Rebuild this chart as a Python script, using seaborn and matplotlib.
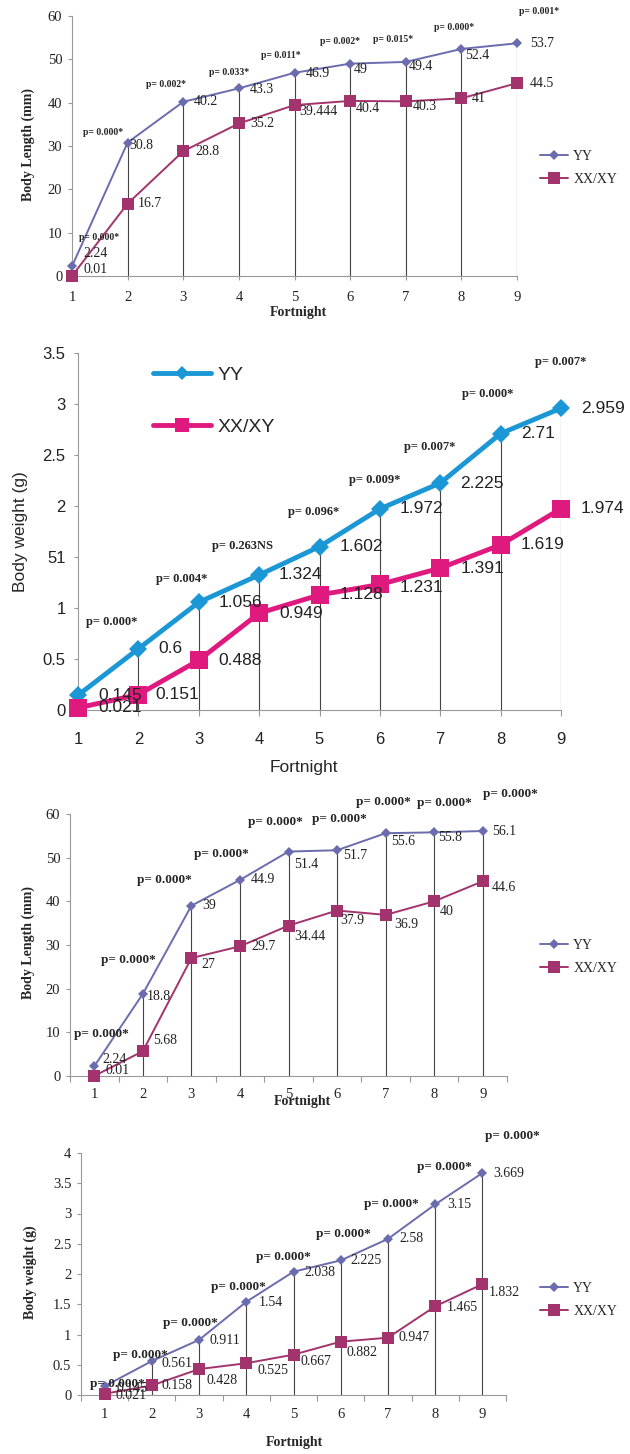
import matplotlib
matplotlib.use('Agg')
import matplotlib.pyplot as plt
import seaborn as sns
import numpy as np
from matplotlib.lines import Line2D

sns.set_style('white')
plt.rcParams['font.family'] = ['Liberation Serif', 'DejaVu Serif']

SERIF = ['Liberation Serif', 'DejaVu Serif']
SANS = ['Liberation Sans', 'DejaVu Sans']

fortnight = [1, 2, 3, 4, 5, 6, 7, 8, 9]
groups = ['YY', 'XX/XY']

# panel 1 : body length (first trial)
len1_yy = [2.24, 30.8, 40.2, 43.3, 46.9, 49, 49.4, 52.4, 53.7]
len1_xx = [0.01, 16.7, 28.8, 35.2, 39.444, 40.4, 40.3, 41, 44.5]
len1_p = ['p= 0.000*', 'p= 0.000*', 'p= 0.002*', 'p= 0.033*', 'p= 0.011*',
          'p= 0.002*', 'p= 0.015*', 'p= 0.000*', 'p= 0.001*']

# panel 2 : body weight (first trial)
wt1_yy = [0.145, 0.6, 1.056, 1.324, 1.602, 1.972, 2.225, 2.71, 2.959]
wt1_xx = [0.021, 0.151, 0.488, 0.949, 1.128, 1.231, 1.391, 1.619, 1.974]
wt1_p = ['p= 0.000*', 'p= 0.004*', 'p= 0.263NS', 'p= 0.096*', 'p= 0.009*',
         'p= 0.007*', 'p= 0.000*', 'p= 0.007*']
wt1_yticklabels = ['0', '0.5', '1', '51', '2', '2.5', '3', '3.5']

# panel 3 : body length (second trial)
len2_yy = [2.24, 18.8, 39, 44.9, 51.4, 51.7, 55.6, 55.8, 56.1]
len2_xx = [0.01, 5.68, 27, 29.7, 34.44, 37.9, 36.9, 40, 44.6]
len2_p = ['p= 0.000*'] * 9

# panel 4 : body weight (second trial)
wt2_yy = [0.145, 0.561, 0.911, 1.54, 2.038, 2.225, 2.58, 3.15, 3.669]
wt2_xx = [0.021, 0.158, 0.428, 0.525, 0.667, 0.882, 0.947, 1.465, 1.832]
wt2_p = ['p= 0.000*'] * 9


def draw(ax, yy, xx, pvals, p_xy, cfg):
    c_yy, c_xx = cfg['colors']
    # drop lines
    ax.vlines(fortnight, 0, np.maximum(yy, xx), colors='#444444', lw=0.8, zorder=1)
    sns.lineplot(x=fortnight, y=yy, color=c_yy, marker='D', markersize=cfg['ms_d'],
                 markeredgewidth=0, lw=cfg['lw'], ax=ax, clip_on=False, zorder=3)
    sns.lineplot(x=fortnight, y=xx, color=c_xx, marker='s', markersize=cfg['ms_s'],
                 markeredgewidth=0, lw=cfg['lw'], ax=ax, clip_on=False, zorder=3)
    fam = cfg['family']
    # value labels
    for vals, offs in [(yy, cfg['off_yy']), (xx, cfg['off_xx'])]:
        for x, v, o in zip(fortnight, vals, offs):
            ax.annotate('%g' % v, (x, v), xytext=o, textcoords='offset pixels',
                        ha='left', va='center', fontsize=cfg['fs_val'], family=fam,
                        color='#222222', zorder=4, annotation_clip=False)
    # p values
    for s, (px, py) in zip(pvals, p_xy):
        ax.text(px, py, s, ha='center', va='center', fontsize=cfg['fs_p'],
                fontweight='bold', family=SERIF, clip_on=False, zorder=5)
    ax.set_xlim(cfg['xlim'])
    ax.set_ylim(cfg['ylim'])
    ax.set_xticks(fortnight)
    ax.set_yticks(cfg['yticks'])
    if 'yticklabels' in cfg:
        ax.set_yticklabels(cfg['yticklabels'])
    else:
        ax.set_yticklabels(['%g' % t for t in cfg['yticks']])
    for sp in ['top', 'right']:
        ax.spines[sp].set_visible(False)
    for sp in ['left', 'bottom']:
        ax.spines[sp].set_color('#999999')
        ax.spines[sp].set_linewidth(0.8)
    ax.tick_params(axis='y', length=3, width=0.8, color='#999999', pad=cfg['ypad'],
                   labelsize=cfg['fs_tick'], labelcolor='#222222', left=True)
    ax.tick_params(axis='x', length=cfg['xtick_len'], width=0.8, color='#999999',
                   pad=cfg['xpad'], labelsize=cfg['fs_tick'], labelcolor='#222222', bottom=True)
    for lab in ax.get_xticklabels() + ax.get_yticklabels():
        lab.set_family(fam)
    if cfg.get('minor'):
        ax.set_xticks(np.arange(0.5, 10, 1), minor=True)
        ax.tick_params(axis='x', which='minor', length=4, width=0.8, color='#999999', bottom=True)
    lw_xl = 'bold' if fam == SERIF else 'normal'
    ax.set_xlabel('Fortnight', fontsize=cfg['fs_lab'], fontweight=lw_xl, family=fam)
    ax.set_ylabel(cfg['ylabel'], fontsize=cfg['fs_lab'], fontweight=lw_xl, family=fam)
    ax.xaxis.set_label_coords(*cfg['xlab_xy'])
    ax.yaxis.set_label_coords(*cfg['ylab_xy'])
    ax.xaxis.label.set_va('center')
    ax.yaxis.label.set_va('center')
    # legend
    fs_leg = cfg['fs_leg']
    handles = [Line2D([], [], color=c_yy, marker='D', markersize=cfg['ms_d'] * cfg['leg_scale'],
                      mew=0, lw=cfg['lw']),
               Line2D([], [], color=c_xx, marker='s', markersize=cfg['ms_s'] * cfg['leg_scale'],
                      mew=0, lw=cfg['lw'])]
    ax.legend(handles, groups, loc='center left', bbox_to_anchor=cfg['leg_xy'],
              bbox_transform=fig.transFigure, frameon=False, borderpad=0, borderaxespad=0,
              handlelength=cfg['hl'], handletextpad=cfg['htp'], labelspacing=cfg['ls'],
              prop={'family': fam, 'size': fs_leg})


W, H = 630, 1454
fig = plt.figure(figsize=(W / 100, H / 100), dpi=100)

muted = ('#6a6cae', '#a3336c')
bright = ('#1b97d5', '#e0197e')

# ---- panel 1
ax1 = fig.add_axes([72 / W, 1 - 276 / H, 445 / W, 260 / H])
cfg1 = dict(colors=muted, ms_d=5, ms_s=8, lw=1.4, family=SERIF, fs_val=10, fs_p=7,
            fs_tick=10.5, fs_lab=10, fs_leg=10, xlim=(1, 9), ylim=(0, 60),
            yticks=range(0, 61, 10), ypad=4, xpad=8, xtick_len=3,
            ylabel='Body Length (mm)', xlab_xy=(0.508, -0.142), ylab_xy=(-0.099, 0.504),
            leg_xy=(540 / W, 1 - 168 / H), hl=2.0, htp=0.4, ls=0.7, leg_scale=1.0,
            off_yy=[(11, 13), (2, -3), (10, 0), (11, -1), (11, -1), (4, -6), (3, -5), (4, -7), (13, 0)],
            off_xx=[(11, 6), (10, 0), (12, 0), (11, 0), (5, -6), (6, -8), (7, -5), (10, 0), (13, 0)])
p1_xy = [(1.49, 8.8), (1.56, 33.1), (2.69, 44.2), (3.82, 47), (4.75, 51),
         (5.82, 54.2), (6.77, 54.6), (7.86, 57.4), (9.39, 61)]
draw(ax1, len1_yy, len1_xx, len1_p, p1_xy, cfg1)

# ---- panel 2
ax2 = fig.add_axes([78 / W, 1 - 710 / H, 483 / W, 357 / H])
cfg2 = dict(colors=bright, ms_d=9.5, ms_s=13, lw=3.5, family=SANS, fs_val=12.5, fs_p=9,
            fs_tick=12, fs_lab=12.5, fs_leg=14, xlim=(1, 9), ylim=(0, 3.5),
            yticks=np.arange(0, 3.6, 0.5), yticklabels=wt1_yticklabels, ypad=6, xpad=12,
            xtick_len=4, ylabel='Body weight (g)', xlab_xy=(0.468, -0.16), ylab_xy=(-0.12, 0.5),
            leg_xy=(153 / W, 1 - 401 / H), hl=3.0, htp=0.3, ls=1.8, leg_scale=0.8,
            off_yy=[(20, 0)] * 9,
            off_xx=[(20, 0), (17, 0), (20, 0), (20, 0), (20, 0), (20, -3), (20, 0), (20, 0), (20, 0)])
p2_xy = [(1.56, 0.86), (2.72, 1.28), (3.73, 1.61), (4.9, 1.94), (5.92, 2.25),
         (6.83, 2.58), (7.79, 3.1), (9.0, 3.41)]
draw(ax2, wt1_yy, wt1_xx, wt1_p, p2_xy, cfg2)

# ---- panel 3
ax3 = fig.add_axes([70 / W, 1 - 1076 / H, 437 / W, 262 / H])
cfg3 = dict(colors=muted, ms_d=5, ms_s=8, lw=1.4, family=SERIF, fs_val=10, fs_p=9.5,
            fs_tick=10.5, fs_lab=10, fs_leg=10, xlim=(0.5, 9.5), ylim=(0, 60),
            yticks=range(0, 61, 10), ypad=4, xpad=9, xtick_len=0, minor=True,
            ylabel='Body Length (mm)', xlab_xy=(0.531, -0.099), ylab_xy=(-0.096, 0.508),
            leg_xy=(540 / W, 1 - 957 / H), hl=2.0, htp=0.4, ls=0.7, leg_scale=1.0,
            off_yy=[(8, 7), (4, -3), (11, 0), (11, 0), (6, -13), (6, -5), (6, -8), (4, -5), (9, 0)],
            off_xx=[(11, 5), (10, 11), (10, -6), (11, 0), (6, -11), (3, -10), (9, -10), (6, -10), (9, -6)])
p3_xy = [(1.14, 9.6), (1.70, 26.5), (2.44, 44.9), (3.61, 50.8), (4.73, 58.1),
         (6.04, 58.8), (6.95, 62.7), (8.22, 62.5), (9.56, 64.5)]
draw(ax3, len2_yy, len2_xx, len2_p, p3_xy, cfg3)

# ---- panel 4
ax4 = fig.add_axes([81 / W, 1 - 1395 / H, 425 / W, 242 / H])
cfg4 = dict(colors=muted, ms_d=5, ms_s=8, lw=1.4, family=SERIF, fs_val=10, fs_p=9.5,
            fs_tick=10.5, fs_lab=10, fs_leg=10, xlim=(0.5, 9.5), ylim=(0, 4),
            yticks=np.arange(0, 4.1, 0.5), ypad=4, xpad=9, xtick_len=0, minor=True,
            ylabel='Body weight (g)', xlab_xy=(0.501, -0.198), ylab_xy=(-0.12, 0.508),
            leg_xy=(540 / W, 1 - 1300 / H), hl=2.0, htp=0.4, ls=0.7, leg_scale=1.0,
            off_yy=[(12, -2), (10, -2), (10, -1), (12, -1), (11, -1), (10, 0), (11, 0), (12, 0), (11, 0)],
            off_xx=[(11, -2), (10, 0), (7, -11), (11, -7), (7, -7), (6, -11), (11, 0), (12, -1), (6, -8)])
p4_xy = [(1.26, 0.18), (1.75, 0.66), (2.81, 1.19), (3.84, 1.79), (4.78, 2.28),
         (6.06, 2.66), (7.08, 3.16), (8.19, 3.77), (9.64, 4.28)]
draw(ax4, wt2_yy, wt2_xx, wt2_p, p4_xy, cfg4)

plt.savefig('out.png', dpi=100)
